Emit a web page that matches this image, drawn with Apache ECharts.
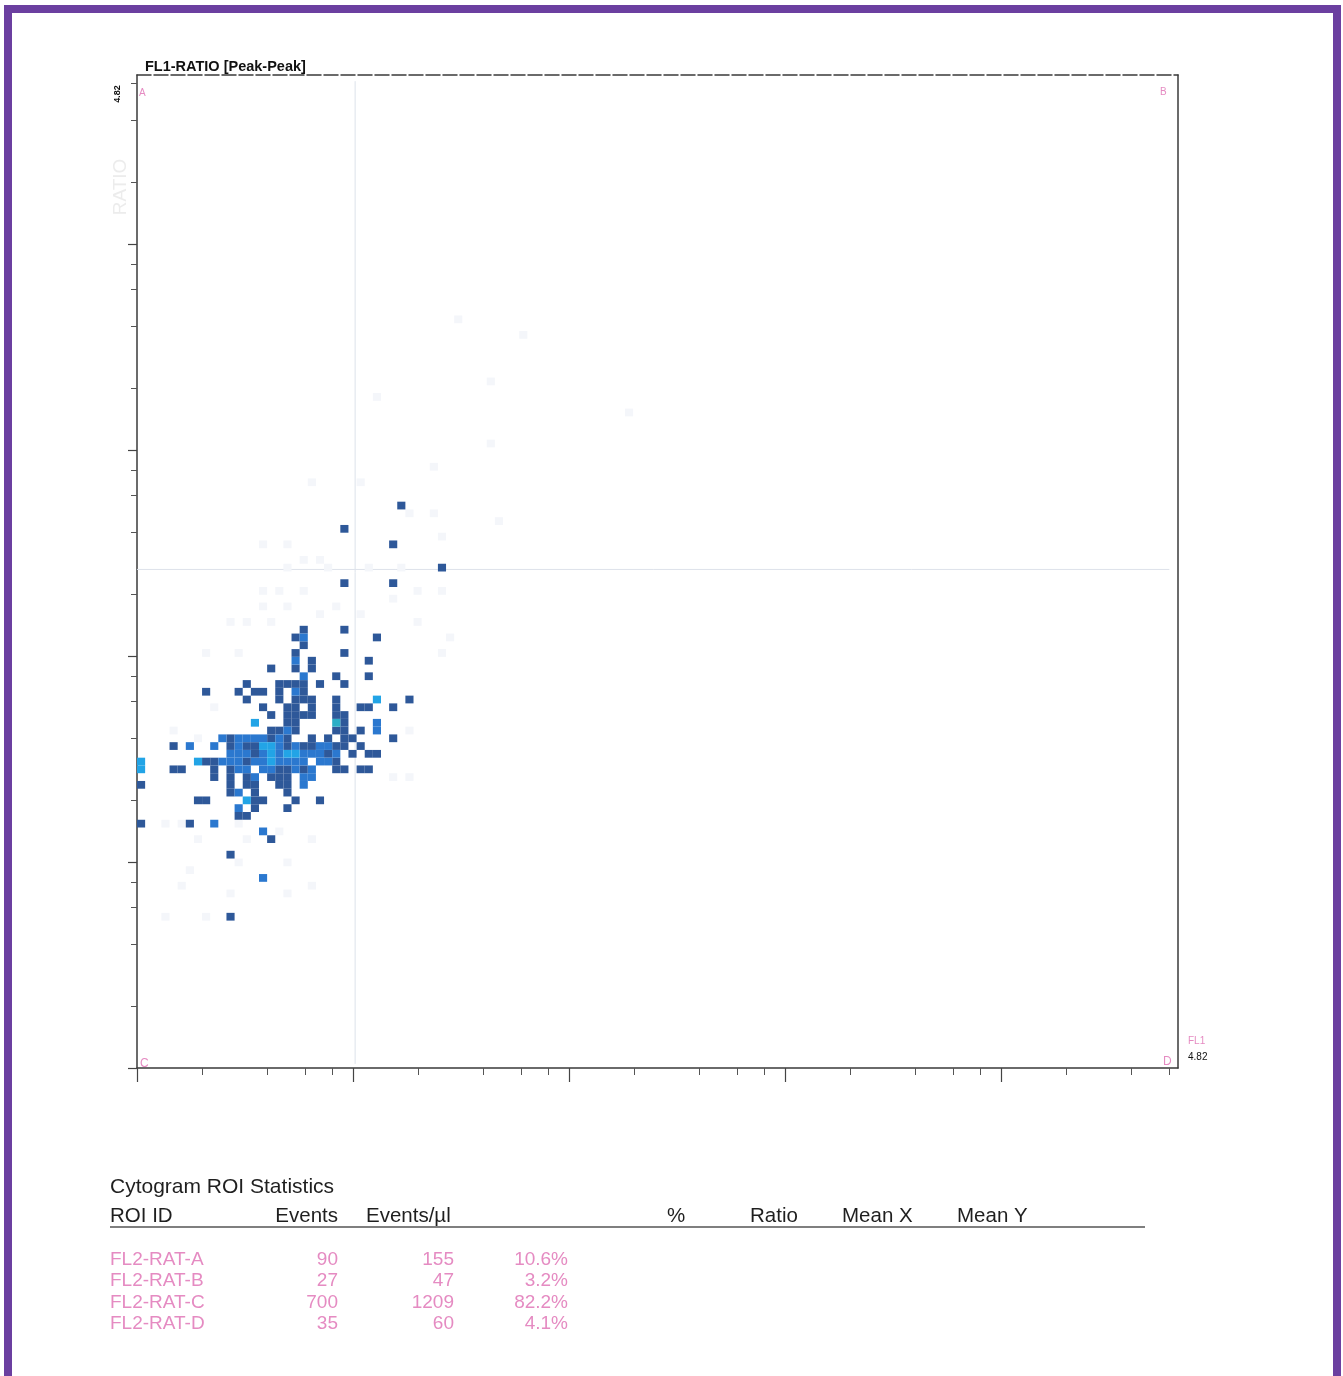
<!DOCTYPE html>
<html><head><meta charset="utf-8">
<script src="https://cdn.jsdelivr.net/npm/echarts@6/dist/echarts.min.js"></script>
<style>html,body{margin:0;padding:0;background:#fff}#c{width:1343px;height:1376px}</style>
</head><body><div id="c"></div><script>
// ---- axis definition (log10 decades, 0 .. 4.82) ----
const DECADES = 4.82;
const BINS = 128;
const majorTicks = [0, 1, 2, 3, 4];
const minorTicks = [0.301, 0.602, 0.778, 0.903, 1.301, 1.602, 1.778, 1.903, 2.301, 2.602, 2.778, 2.903,
  3.301, 3.602, 3.778, 3.903, 4.301, 4.602, 4.778];
const quadX = 1.01;
const quadY = 2.42;

// ---- histogram cells [column bin, row bin] by intensity ----
const darkCells = [
  [32,72],[25,69],[31,67],[37,64],[25,62],[31,62],
  [20,56],[25,56],[19,55],[29,55],[20,54],[19,53],[25,53],
  [21,52],[28,52],[16,51],[19,51],[21,51],[24,50],[28,50],
  [13,49],[17,49],[18,49],[19,49],[20,49],[22,49],[25,49],
  [8,48],[12,48],[14,48],[15,48],[17,48],[20,48],
  [13,47],[17,47],[19,47],[20,47],[21,47],[24,47],[33,47],
  [15,46],[18,46],[19,46],[21,46],[24,46],[27,46],[28,46],[31,46],
  [16,45],[18,45],[19,45],[20,45],[21,45],[24,45],[25,45],
  [18,44],[19,44],[25,44],
  [16,43],[17,43],[19,43],[24,43],[25,43],[27,43],
  [11,42],[16,42],[18,42],[21,42],[23,42],[25,42],[26,42],[31,42],
  [4,41],[11,41],[13,41],[14,41],[18,41],[20,41],[21,41],[24,41],[25,41],[27,41],
  [14,40],[23,40],[26,40],[28,40],[29,40],
  [8,39],[9,39],[13,39],[24,39],
  [4,38],[5,38],[9,38],[11,38],[17,38],[18,38],[20,38],[24,38],[25,38],[27,38],[28,38],
  [9,37],[11,37],[13,37],[16,37],[17,37],[18,37],
  [0,36],[11,36],[13,36],[14,36],[17,36],[18,36],
  [11,35],[14,35],[18,35],
  [7,34],[8,34],[14,34],[15,34],[19,34],[22,34],
  [14,33],[18,33],
  [12,32],[13,32],
  [0,31],[6,31],
  [16,29],[11,27],[11,19]
];
const blueCells = [
  [20,55],[19,52],[20,50],[19,48],[29,44],[18,43],[29,43],
  [10,42],[12,42],[13,42],[14,42],[15,42],[17,42],
  [6,41],[9,41],[12,41],[17,41],[19,41],[22,41],[23,41],
  [11,40],[12,40],[13,40],[15,40],[17,40],[20,40],[21,40],[22,40],[24,40],
  [10,39],[11,39],[12,39],[14,39],[15,39],[17,39],[18,39],[19,39],[20,39],[22,39],[23,39],
  [12,38],[13,38],[15,38],[16,38],[19,38],[21,38],
  [14,37],[20,37],[21,37],
  [20,36],[12,35],[12,33],[9,31],[15,30],[15,24]
];
const brightCells = [
  [29,47],[14,44],[15,41],[16,41],[16,40],[18,40],[19,40],[0,39],[7,39],[16,39],[0,38],[13,34]
];
const tealCells = [[24,44]];
const faintCells = [
  [21,75],[27,75],[33,71],[36,71],[37,68],[15,67],[18,67],[20,65],[22,65],[23,64],[18,64],
  [28,64],[32,64],[15,61],[17,61],[20,61],[34,61],[37,61],[15,59],[18,59],[24,59],[31,60],
  [11,57],[13,57],[16,57],[22,58],[27,58],[34,57],[38,55],[8,53],[12,53],[37,53],
  [4,43],[7,42],[9,46],[10,42],[33,43],[31,37],[33,37],[3,31],[5,31],[7,29],[12,31],[13,29],
  [17,30],[21,29],[6,25],[12,26],[18,26],[5,23],[11,22],[18,22],[21,23],[3,19],[8,19],
  [39,96],[43,88],[47,94],[60,84],[43,80],[29,86],[36,77],[44,70]
];

// ---- statistics table ----
const tableTitle = 'Cytogram ROI Statistics';
const headers = ['ROI ID', 'Events', 'Events/µl', '%', 'Ratio', 'Mean X', 'Mean Y'];
const roiIds = ['FL2-RAT-A', 'FL2-RAT-B', 'FL2-RAT-C', 'FL2-RAT-D'];
const events = ['90', '27', '700', '35'];
const eventsPerUl = ['155', '47', '1209', '60'];
const percents = ['10.6%', '3.2%', '82.2%', '4.1%'];

const levelColors = ['#f4f6fa', '#2e5899', '#2b78cf', '#22a4e6', '#2aaec6'];
const cellData = [];
faintCells.forEach(p => cellData.push([p[0], p[1], 0]));
darkCells.forEach(p => cellData.push([p[0], p[1], 1]));
blueCells.forEach(p => cellData.push([p[0], p[1], 2]));
brightCells.forEach(p => cellData.push([p[0], p[1], 3]));
tealCells.forEach(p => cellData.push([p[0], p[1], 4]));

const BIN = DECADES / BINS;
const FONT = '"Liberation Sans", Arial, sans-serif';
const PINK = '#e58bc2';
const INK = '#1f1f1f';

const chart = echarts.init(document.getElementById('c'));

function axisPair(dir) {
  const pos = dir === 'x' ? 'bottom' : 'left';
  return [
    { type: 'value', min: 0, max: DECADES, position: pos,
      axisLine: { show: true, onZero: false, lineStyle: { color: '#3a3a3a', width: 1.5 } },
      axisTick: { show: true, customValues: majorTicks, length: dir === 'x' ? 14 : 9, lineStyle: { color: '#444', width: 1.2 } },
      axisLabel: { show: false }, splitLine: { show: false } },
    { type: 'value', min: 0, max: DECADES, position: pos,
      axisLine: { show: false, onZero: false },
      axisTick: { show: true, customValues: minorTicks, length: dir === 'x' ? 7 : 6, lineStyle: { color: '#555', width: 1 } },
      axisLabel: { show: false }, splitLine: { show: false } }
  ];
}

const graphics = [
  { type: 'rect', shape: { x: 8, y: 9, width: 1329, height: 1400 }, style: { fill: 'none', stroke: '#6b3fa0', lineWidth: 8 }, z: 100 },
  { type: 'text', x: 145, y: 67, style: { text: 'FL1-RATIO [Peak-Peak]', font: 'bold 14.5px ' + FONT, fill: '#111', textVerticalAlign: 'middle' } },
  { type: 'text', x: 118, y: 94, rotation: Math.PI / 2, style: { text: '4.82', font: 'bold 9px ' + FONT, fill: '#111', textAlign: 'center', textVerticalAlign: 'middle' } },
  { type: 'text', x: 121, y: 187, rotation: Math.PI / 2, style: { text: 'RATIO', font: '19px ' + FONT, fill: '#ececec', textAlign: 'center', textVerticalAlign: 'middle' } },
  { type: 'text', x: 139, y: 93, style: { text: 'A', font: '10px ' + FONT, fill: PINK, textVerticalAlign: 'middle' } },
  { type: 'text', x: 1160, y: 92, style: { text: 'B', font: '10px ' + FONT, fill: PINK, textVerticalAlign: 'middle' } },
  { type: 'text', x: 140, y: 1064, style: { text: 'C', font: '12px ' + FONT, fill: PINK, textVerticalAlign: 'middle' } },
  { type: 'text', x: 1163, y: 1062, style: { text: 'D', font: '12px ' + FONT, fill: PINK, textVerticalAlign: 'middle' } },
  { type: 'text', x: 1188, y: 1041, style: { text: 'FL1', font: '10px ' + FONT, fill: PINK, textVerticalAlign: 'middle' } },
  { type: 'text', x: 1188, y: 1057, style: { text: '4.82', font: '10px ' + FONT, fill: '#111', textVerticalAlign: 'middle' } },
  { type: 'text', x: 110, y: 1187, style: { text: tableTitle, font: '21px ' + FONT, fill: INK, textVerticalAlign: 'middle' } },
  { type: 'line', shape: { x1: 110, y1: 1227, x2: 1145, y2: 1227 }, style: { stroke: '#555', lineWidth: 1.5 } }
];
const headerPos = [[110, 'left'], [338, 'right'], [366, 'left'], [667, 'left'], [750, 'left'], [842, 'left'], [957, 'left']];
headers.forEach((h, i) => graphics.push({ type: 'text', x: headerPos[i][0], y: 1216,
  style: { text: h, font: '20.5px ' + FONT, fill: INK, textAlign: headerPos[i][1], textVerticalAlign: 'middle' } }));
roiIds.forEach((id, i) => {
  const y = 1260 + i * 21.2;
  const f = '19px ' + FONT;
  graphics.push({ type: 'text', x: 110, y, style: { text: id, font: f, fill: PINK, textVerticalAlign: 'middle' } });
  graphics.push({ type: 'text', x: 338, y, style: { text: events[i], font: f, fill: PINK, textAlign: 'right', textVerticalAlign: 'middle' } });
  graphics.push({ type: 'text', x: 454, y, style: { text: eventsPerUl[i], font: f, fill: PINK, textAlign: 'right', textVerticalAlign: 'middle' } });
  graphics.push({ type: 'text', x: 568, y, style: { text: percents[i], font: f, fill: PINK, textAlign: 'right', textVerticalAlign: 'middle' } });
});

const xs = axisPair('x');
const ys = axisPair('y');
// top & right frame
xs.push({ type: 'value', min: 0, max: DECADES, position: 'top', axisLine: { show: true, onZero: false, lineStyle: { color: '#3a3a3a', width: 1.5, type: [14, 3] } }, axisTick: { show: false }, axisLabel: { show: false }, splitLine: { show: false } });
ys.push({ type: 'value', min: 0, max: DECADES, position: 'right', axisLine: { show: true, onZero: false, lineStyle: { color: '#3a3a3a', width: 1.5 } }, axisTick: { show: false }, axisLabel: { show: false }, splitLine: { show: false } });

chart.setOption({
  animation: false,
  backgroundColor: '#fff',
  grid: { left: 137, top: 75, width: 1041, height: 993 },
  xAxis: xs,
  yAxis: ys,
  graphic: graphics,
  series: [
    { type: 'line', xAxisIndex: 0, yAxisIndex: 0, symbol: 'none', silent: true,
      lineStyle: { color: '#dde2ea', width: 1 }, data: [[quadX, 0.02], [quadX, DECADES - 0.03]], z: 1 },
    { type: 'line', xAxisIndex: 0, yAxisIndex: 0, symbol: 'none', silent: true,
      lineStyle: { color: '#dde2ea', width: 1 }, data: [[0, quadY], [DECADES - 0.04, quadY]], z: 1 },
    { type: 'custom', xAxisIndex: 0, yAxisIndex: 0, data: cellData, z: 3,
      renderItem: function (params, api) {
        const c = api.value(0), r = api.value(1);
        const p0 = api.coord([c * BIN, (r + 1) * BIN]);
        const p1 = api.coord([(c + 1) * BIN, r * BIN]);
        return { type: 'rect', shape: { x: p0[0], y: p0[1], width: p1[0] - p0[0], height: p1[1] - p0[1] },
          style: { fill: levelColors[api.value(2)] } };
      } }
  ]
});
</script></body></html>
